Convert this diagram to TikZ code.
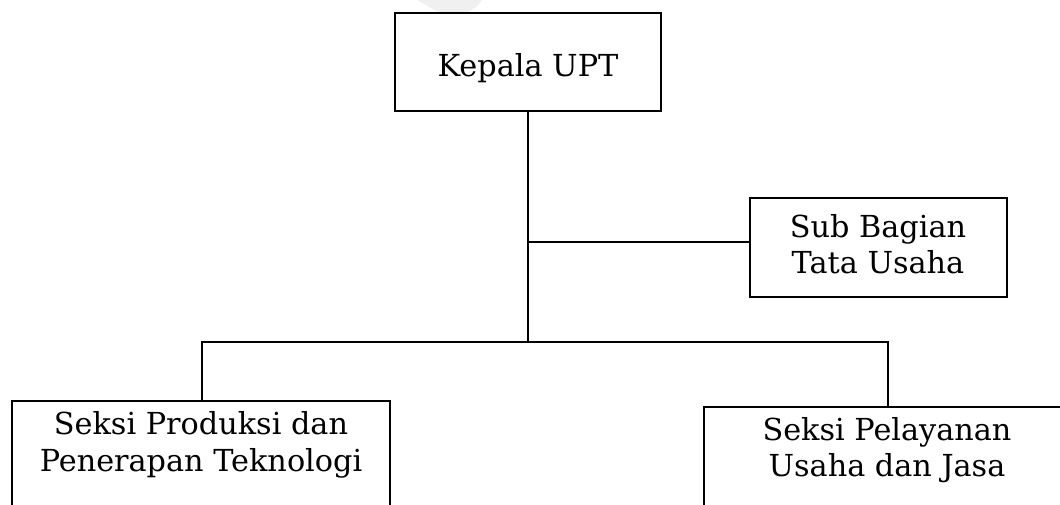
\documentclass[tikz,border=0pt]{standalone}
\usepackage{fontspec}
\setmainfont{DejaVu Serif}
\begin{document}
\begin{tikzpicture}[x=1pt,y=-1pt,
  box/.style={draw=black,line width=1.4pt,fill=white},
  lbl/.style={align=center,font=\fontsize{30.3}{36.5}\selectfont,inner sep=0pt},
  wire/.style={draw=black,line width=1.3pt}]
\useasboundingbox (0,0) rectangle (1060,505);
\clip (0,0) rectangle (1060,505);
% faint mark at the top edge
\fill[black!6] (417,0) -- (440,13) .. controls (458,18) and (475,12) .. (482,0) -- cycle;
% boxes
\draw[box] (395,13) rectangle (661,111);
\coordinate (kb) at (528,111);
\draw[box] (750,198) rectangle (1007,297);
\coordinate (sbl) at (750,242);
\draw[box] (12,401) rectangle (390,520);
\draw[box] (704,407) rectangle (1075,520);
% labels
\node[lbl] (kepala) at (528,68) {Kepala UPT};
\node[lbl] (sub) at (878,244) {Sub Bagian\\Tata Usaha};
\node[lbl] (prod) at (201,445) {Seksi Produksi dan\\Penerapan Teknologi};
\node[lbl] (lay) at (887,450) {Seksi Pelayanan\\Usaha dan Jasa};
% connectors
\coordinate (trunkmid) at (528,242);
\coordinate (trunkbot) at (528,342);
\coordinate (lt) at (202,342);
\coordinate (rt) at (888,342);
\coordinate (lb) at (202,401);
\coordinate (rb) at (888,407);
\draw[wire] (kb) -- (trunkbot);
\draw[wire] (trunkmid) -- (sbl);
\draw[wire] (lb) -- (lt) -- (rt) -- (rb);
\end{tikzpicture}
\end{document}
